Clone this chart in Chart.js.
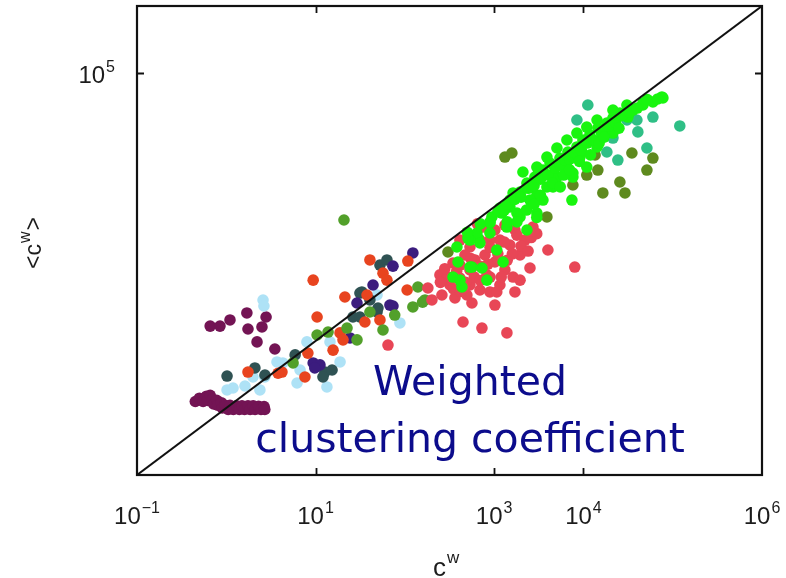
<!DOCTYPE html>
<html>
<head>
<meta charset="utf-8">
<script src="https://cdn.jsdelivr.net/npm/chart.js@4"></script>
<style>
  html, body { margin: 0; padding: 0; background: #fff; }
  canvas { display: block; }
</style>
</head>
<body>
<canvas id="chart" width="786" height="578"></canvas>
<script>
// axis ticks (log scale, both axes 10^-1 .. 10^6)
const xTickValues = [0.1, 10, 1000, 10000, 1000000];
const xTickExps = ["\u22121", "1", "3", "4", "6"];
const yTickValues = [100000];
const yTickExps = ["5"];
const diagonal = [[0.1, 0.1], [1000000, 1000000]];

// series values, [c^w, <c^w>]
const maroonPts = [
  [0.66, 16.7], [0.85, 16.7], [1.1, 20.6], [1.7, 26.2], [2.79, 22.8], [1.75, 15.1], [2.51, 16.2], [2.21, 9.7], [3.5, 7.6],
  [0.45, 1.25], [0.5, 1.4], [0.55, 1.25], [0.6, 1.5], [0.62, 1.3], [0.66, 1.55], [0.7, 1.35], [0.72, 1.15], [0.78, 1.3],
  [0.8, 1.1], [0.88, 1.2], [0.9, 1.0], [0.97, 1.1], [1.05, 0.95], [1.1, 1.1], [1.2, 0.95], [1.3, 1.08], [1.4, 0.95],
  [1.5, 1.08], [1.6, 0.95], [1.75, 1.08], [1.85, 0.95], [2.0, 1.08], [2.1, 0.95], [2.3, 1.06], [2.45, 0.95], [2.65, 1.05], [2.7, 0.95]
];
const lightBluePts = [
  [2.58, 40.9], [2.64, 33.3], [3.7, 4.87], [8.0, 9.7], [6.7, 3.69], [14.5, 9.7], [18.8, 4.87], [13.4, 2.06], [6.2, 2.36],
  [2.38, 1.86], [1.62, 2.13], [1.19, 1.99], [1.02, 1.86], [1.99, 2.9], [88, 18.6], [48.8, 48.6], [4.3, 4.7], [2.7, 2.9]
];
const slatePts = [
  [1.02, 3.0], [2.09, 3.96], [2.71, 3.11], [5.9, 6.2], [12.7, 3.44], [15.3, 3.69], [12.1, 2.9], [31.4, 52], [40.6, 41],
  [48.8, 27.1], [26.2, 22.8], [52.6, 136], [63, 162], [33, 54], [50, 31], [31.4, 22.8]
];
const indigoPts = [
  [9.4, 4.7], [11.2, 4.4], [9.8, 3.96], [24.3, 11.1], [44, 68.5], [68, 34.4], [29.1, 36.9], [123, 206], [73.6, 131], [73.6, 33.3]
];
const orangeRedPts = [
  [10.4, 22.8], [9.4, 81], [21.3, 45.4], [37.7, 48.6], [52.6, 20.6], [35.7, 19.2], [18.8, 13.2], [15.7, 7.3], [4.2, 3.44],
  [7.6, 2.9], [20.3, 10.4], [40.6, 162], [108, 156], [56.9, 103], [63, 81], [106, 57.7], [8.2, 6.6], [3.8, 3.3], [1.75, 3.44]
];
const greenPts = [
  [10.4, 12.3], [13.8, 13.6], [22.5, 15.6], [29.1, 10.4], [40.6, 27.1], [56.9, 14.6], [5.6, 4.7], [20.8, 640],
  [140, 64], [168, 41], [123, 32.2], [77, 24.4], [158, 38]
];
const pinkPts = [
  [448, 19.2], [730, 15.6], [1390, 13.2], [564, 36.9], [1020, 34.4], [1710, 54], [2520, 123], [4000, 228], [8000, 127],
  [2720, 502], [1630, 90], [260, 48.6], [181, 61.8], [247, 97], [346, 146], [536, 253], [750, 502], [650, 560], [64.7, 8.7],
  [320, 68.5], [414, 87], [536, 68.5], [693, 57.7], [897, 54], [1160, 68.5], [1320, 115], [1020, 151], [789, 192],
  [610, 162], [471, 192], [414, 321], [897, 321], [1160, 321], [1500, 271], [1950, 192], [2210, 321], [1710, 454],
  [1320, 538], [1020, 454], [693, 321], [364, 43.9], [495, 48.6], [830, 97], [1070, 54], [1950, 81], [536, 115],
  [414, 136], [201, 41], [300, 90], [350, 60], [420, 55], [480, 75], [600, 90], [700, 80], [900, 90], [1200, 90],
  [1400, 160], [1600, 200], [2000, 260], [2400, 220], [700, 130], [550, 170], [850, 140], [1100, 200], [1300, 300],
  [900, 250], [2600, 350], [3000, 400], [1800, 380], [280, 120], [380, 110], [250, 75]
];
const olivePts = [
  [1320, 5570], [1580, 6400], [13500, 5970], [14500, 3560], [34900, 6400], [60000, 5380], [51400, 3560], [25600, 2360],
  [29200, 1620], [16500, 1620], [10900, 3000], [7620, 2130], [3900, 710], [304, 213]
];
const tealPts = [
  [11200, 33300], [8450, 19900], [120000, 16200], [60000, 22000], [40700, 13200], [21400, 10700], [18300, 6620],
  [24300, 5020], [51400, 7600], [39700, 19900], [30700, 19900]
];
const brightGreenPts = [
  [383, 253], [394, 151], [346, 90], [436, 64], [564, 127], [730, 123], [830, 81], [1070, 228], [1260, 151], [659, 344],
  [897, 577], [1220, 813], [1500, 1000], [1950, 1620], [2650, 1990], [3520, 1270], [4560, 1990], [7430, 1270], [1950, 710],
  [3010, 813], [2330, 454], [2100, 3330], [75700, 43900], [60000, 36900], [46400, 33300], [35800, 28000], [25600, 25300],
  [21400, 21300], [18300, 17900], [14500, 15100], [11800, 11900], [9870, 10000], [8450, 7870], [6700, 6620], [5460, 5380],
  [4220, 4540], [3520, 3560], [2860, 2800], [2330, 2280], [1950, 1670], [1500, 1270], [1160, 966], [944, 710],
  [9140, 5570], [6530, 3950], [5050, 2800], [3900, 1990], [3010, 1510], [10900, 3950], [7620, 2800], [19800, 14100],
  [14200, 7870], [31500, 22000], [21400, 12700], [414, 81], [536, 127], [641, 409], [1630, 1620], [3010, 3950],
  [3900, 5570], [5050, 7600], [6530, 10000], [8450, 12700], [10900, 15600], [14200, 19900], [21400, 28000],
  [30700, 33300], [46400, 35600], [77600, 42400], [7620, 3210], [2520, 1270], [1800, 813], [1390, 502], [897, 409],
  [693, 290], [536, 321], [509, 344],
  [500, 420], [700, 560], [900, 600], [1100, 850], [1300, 900], [1400, 1100], [1700, 1300], [2000, 1400], [2400, 1900],
  [2800, 2100], [3300, 2600], [4000, 3000], [4800, 3800], [5500, 4200], [6200, 5000], [7000, 5200], [8000, 6400],
  [9500, 7000], [11000, 9000], [13000, 10000], [16000, 12500], [19000, 16000], [23000, 18000], [27000, 23000],
  [33000, 26000], [40000, 30000], [52000, 40000], [68000, 41000],
  [1400, 600], [1800, 600], [2300, 900], [2800, 1100], [3300, 1500], [4500, 2300], [5500, 2000], [6000, 3000],
  [7000, 3600], [9000, 4800], [12000, 6000], [15000, 9000], [17000, 11000], [25000, 15000], [3000, 700]
];

const toXY = arr => arr.map(p => ({ x: p[0], y: p[1] }));

function dots(data, color) {
  return {
    type: "scatter",
    data: toXY(data),
    backgroundColor: color,
    borderWidth: 0,
    pointRadius: 5.8,
    pointHoverRadius: 5.8
  };
}

// draws the frame, tick marks, tick labels with superscripts, axis titles and the caption
const decorPlugin = {
  id: "decor",
  afterDraw(chart) {
    const { ctx, chartArea: a, scales } = chart;
    const xs = scales.x, ys = scales.y;
    ctx.save();

    ctx.strokeStyle = "#111";
    ctx.lineWidth = 2.2;
    ctx.strokeRect(a.left, a.top, a.right - a.left, a.bottom - a.top);

    ctx.lineWidth = 1.8;
    ctx.beginPath();
    xTickValues.forEach(v => {
      const px = Math.round(xs.getPixelForValue(v)) + 0.5;
      if (px <= a.left + 2 || px >= a.right - 2) return;
      ctx.moveTo(px, a.bottom); ctx.lineTo(px, a.bottom - 7);
      ctx.moveTo(px, a.top); ctx.lineTo(px, a.top + 7);
    });
    yTickValues.forEach(v => {
      const py = Math.round(ys.getPixelForValue(v)) + 0.5;
      ctx.moveTo(a.left, py); ctx.lineTo(a.left + 7, py);
      ctx.moveTo(a.right, py); ctx.lineTo(a.right - 7, py);
    });
    ctx.stroke();

    const baseFont = "24px 'Liberation Sans', Arial, sans-serif";
    const supFont = "16px 'Liberation Sans', Arial, sans-serif";
    function pow(exp) {
      ctx.font = baseFont;
      const wb = ctx.measureText("10").width;
      ctx.font = supFont;
      const we = ctx.measureText(exp).width;
      return { wb, we, w: wb + we + 1 };
    }
    function drawPow(exp, left, baseline) {
      const m = pow(exp);
      ctx.font = baseFont;
      ctx.fillText("10", left, baseline);
      ctx.font = supFont;
      ctx.fillText(exp, left + m.wb + 1, baseline - 11);
    }
    ctx.fillStyle = "#1c1c1c";
    ctx.textBaseline = "alphabetic";
    ctx.textAlign = "left";
    xTickValues.forEach((v, i) => {
      const px = xs.getPixelForValue(v);
      const m = pow(xTickExps[i]);
      drawPow(xTickExps[i], px - m.w / 2, 524);
    });
    yTickValues.forEach((v, i) => {
      const py = ys.getPixelForValue(v);
      const m = pow(yTickExps[i]);
      drawPow(yTickExps[i], a.left - 22 - m.w, py + 10);
    });

    // x title: c^w
    ctx.font = "26px 'Liberation Sans', Arial, sans-serif";
    ctx.fillText("c", 433, 576);
    const wc = ctx.measureText("c").width;
    ctx.font = "17px 'Liberation Sans', Arial, sans-serif";
    ctx.fillText("w", 433 + wc + 1, 563);

    // y title: <c^w>, rotated
    ctx.save();
    ctx.translate(41, 243);
    ctx.rotate(-Math.PI / 2);
    const big = "23px 'Liberation Sans', Arial, sans-serif";
    const small = "16px 'Liberation Sans', Arial, sans-serif";
    ctx.font = big;
    const w1 = ctx.measureText("<c").width, w3 = ctx.measureText(">").width;
    ctx.font = small;
    const w2 = ctx.measureText("w").width;
    let x0 = -(w1 + w2 + w3 + 2) / 2;
    ctx.font = big; ctx.fillText("<c", x0, 0);
    ctx.font = small; ctx.fillText("w", x0 + w1 + 1, -11);
    ctx.font = big; ctx.fillText(">", x0 + w1 + w2 + 2, 0);
    ctx.restore();

    // caption
    ctx.fillStyle = "#0c0c8c";
    ctx.textAlign = "center";
    let size = 44;
    ctx.font = size + "px 'DejaVu Sans', sans-serif";
    const target = 430;
    size = size * target / ctx.measureText("clustering coefficient").width;
    ctx.font = size.toFixed(1) + "px 'DejaVu Sans', sans-serif";
    ctx.fillText("Weighted", 470, 395);
    ctx.fillText("clustering coefficient", 470, 452);

    ctx.restore();
  }
};

new Chart(document.getElementById("chart").getContext("2d"), {
  type: "scatter",
  data: {
    datasets: [
      {
        type: "line",
        data: toXY(diagonal),
        borderColor: "#111",
        borderWidth: 2,
        pointRadius: 0,
        showLine: true,
        fill: false
      },
      dots(brightGreenPts, "#19f50f"),
      dots(tealPts, "#2fbf86"),
      dots(olivePts, "#5e8a1e"),
      dots(pinkPts, "#e84656"),
      dots(greenPts, "#52a02a"),
      dots(orangeRedPts, "#e8441f"),
      dots(indigoPts, "#3b1c7e"),
      dots(slatePts, "#2f5253"),
      dots(lightBluePts, "#aee2f6"),
      dots(maroonPts, "#731454")
    ]
  },
  options: {
    responsive: false,
    animation: false,
    layout: { padding: { left: 137, top: 6, right: 24, bottom: 103 } },
    plugins: {
      legend: { display: false },
      tooltip: { enabled: false }
    },
    scales: {
      x: { type: "logarithmic", min: 0.1, max: 1000000, display: false },
      y: { type: "logarithmic", min: 0.1, max: 1000000, display: false }
    }
  },
  plugins: [decorPlugin]
});
</script>
</body>
</html>
